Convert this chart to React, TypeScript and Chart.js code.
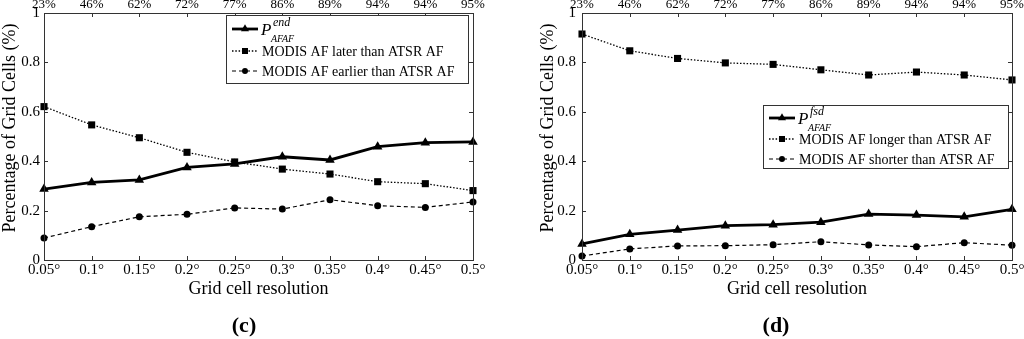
import React, { useEffect, useRef } from 'react';
import { Chart, registerables } from 'chart.js';
Chart.register(...registerables);

// ---------- data ----------
const resolutions = ['0.05°', '0.1°', '0.15°', '0.2°', '0.25°', '0.3°', '0.35°', '0.4°', '0.45°', '0.5°'];
const coverage = ['23%', '46%', '62%', '72%', '77%', '86%', '89%', '94%', '94%', '95%'];

// panel (c)
const pEnd = [0.287, 0.314, 0.324, 0.375, 0.389, 0.418, 0.405, 0.459, 0.475, 0.478];
const laterThan = [0.621, 0.547, 0.495, 0.436, 0.397, 0.368, 0.348, 0.317, 0.309, 0.281];
const earlierThan = [0.089, 0.135, 0.175, 0.185, 0.211, 0.206, 0.244, 0.220, 0.213, 0.235];

// panel (d)
const pFsd = [0.065, 0.104, 0.121, 0.139, 0.143, 0.153, 0.186, 0.182, 0.175, 0.205];
const longerThan = [0.915, 0.847, 0.816, 0.798, 0.792, 0.770, 0.749, 0.761, 0.749, 0.729];
const shorterThan = [0.016, 0.045, 0.057, 0.058, 0.062, 0.074, 0.061, 0.054, 0.070, 0.060];

const labelsC = ['MODIS AF later than ATSR AF', 'MODIS AF earlier than ATSR AF'];
const labelsD = ['MODIS AF longer than ATSR AF', 'MODIS AF shorter than ATSR AF'];

const FONT = "'Liberation Serif', 'Times New Roman', Times, serif";
const W = 512;
const H = 339;

type Style = { width: number; dash: number[]; point: string; r: number };
const STYLES: Style[] = [
  { width: 2.8, dash: [], point: 'triangle', r: 5.5 },
  { width: 1.3, dash: [1.5, 1.8], point: 'rect', r: 5 },
  { width: 1.2, dash: [4, 3], point: 'circle', r: 3.5 },
];

function drawMarker(ctx: CanvasRenderingContext2D, style: string, x: number, y: number, r: number) {
  ctx.beginPath();
  if (style === 'triangle') {
    ctx.moveTo(x, y - r);
    ctx.lineTo(x + r * 0.866, y + r * 0.5);
    ctx.lineTo(x - r * 0.866, y + r * 0.5);
  } else if (style === 'rect') {
    const s = r / Math.SQRT2;
    ctx.rect(x - s, y - s, 2 * s, 2 * s);
  } else {
    ctx.arc(x, y, r, 0, Math.PI * 2);
  }
  ctx.closePath();
  ctx.fill();
}

type PanelCfg = {
  series: number[][];
  texts: string[];
  sup: string;
  yWidth: number;
  yPad: number;
  padRight: number;
  box: [number, number, number, number];
  rows: number[];
  panel: string;
  panelX: number;
};

function makeDecor(cfg: PanelCfg) {
  return {
    id: 'decor',
    afterDraw(chart: any) {
      const ctx: CanvasRenderingContext2D = chart.ctx;
      const { left, right, top, bottom } = chart.chartArea;
      const xs = chart.scales.x;
      const ys = chart.scales.y;
      ctx.save();
      // frame
      ctx.strokeStyle = '#333';
      ctx.lineWidth = 1;
      ctx.setLineDash([]);
      ctx.strokeRect(Math.round(left) + 0.5, Math.round(top) + 0.5, Math.round(right - left), Math.round(bottom - top));
      // inward ticks
      ctx.beginPath();
      for (let i = 0; i < xs.ticks.length; i++) {
        const px = Math.round(xs.getPixelForTick(i)) + 0.5;
        ctx.moveTo(px, bottom);
        ctx.lineTo(px, bottom - 4);
        ctx.moveTo(px, top);
        ctx.lineTo(px, top + 4);
      }
      ys.ticks.forEach((t: any) => {
        const py = Math.round(ys.getPixelForValue(t.value)) + 0.5;
        ctx.moveTo(left, py);
        ctx.lineTo(left + 4, py);
        ctx.moveTo(right, py);
        ctx.lineTo(right - 4, py);
      });
      ctx.stroke();

      // axis titles
      ctx.fillStyle = '#000';
      ctx.font = `18px ${FONT}`;
      ctx.textAlign = 'center';
      ctx.textBaseline = 'middle';
      ctx.fillText('Grid cell resolution', (left + right) / 2, 289);
      ctx.save();
      ctx.translate(left - 34, 128);
      ctx.rotate(-Math.PI / 2);
      ctx.fillText('Percentage of Grid Cells (%)', 0, 0);
      ctx.restore();

      // panel label
      ctx.font = `bold 22px ${FONT}`;
      ctx.fillText(cfg.panel, cfg.panelX, 326);

      // legend
      const [bx, by, bw, bh] = cfg.box;
      ctx.fillStyle = '#fff';
      ctx.fillRect(bx, by, bw, bh);
      ctx.strokeStyle = '#333';
      ctx.lineWidth = 1;
      ctx.strokeRect(bx + 0.5, by + 0.5, bw, bh);
      const lx0 = bx + 6;
      const lx1 = bx + 32;
      const tx = bx + 36;
      cfg.rows.forEach((ry, i) => {
        const st = STYLES[i];
        ctx.strokeStyle = '#000';
        ctx.fillStyle = '#000';
        ctx.lineWidth = st.width;
        ctx.setLineDash(st.dash);
        ctx.beginPath();
        ctx.moveTo(lx0, ry);
        ctx.lineTo(lx1, ry);
        ctx.stroke();
        ctx.setLineDash([]);
        drawMarker(ctx, st.point, (lx0 + lx1) / 2, ry, st.r * 0.85);
        ctx.textAlign = 'left';
        ctx.textBaseline = 'alphabetic';
        if (i === 0) {
          ctx.font = `italic 17px ${FONT}`;
          ctx.fillText('P', tx - 1, ry + 6);
          ctx.font = `italic 12px ${FONT}`;
          ctx.fillText(cfg.sup, tx + 11, ry - 3);
          ctx.font = `italic 10px ${FONT}`;
          ctx.fillText('AFAF', tx + 9, ry + 13);
        } else {
          ctx.font = `14px ${FONT}`;
          ctx.textBaseline = 'middle';
          ctx.fillText(cfg.texts[i - 1], tx, ry + 1);
        }
      });
      ctx.restore();
    },
  };
}

function buildConfig(cfg: PanelCfg): any {
  return {
    type: 'line',
    data: {
      labels: resolutions,
      datasets: cfg.series.map((vals, i) => ({
        data: vals,
        xAxisID: 'x',
        yAxisID: 'y',
        borderColor: '#000',
        backgroundColor: '#000',
        borderWidth: STYLES[i].width,
        borderDash: STYLES[i].dash,
        pointStyle: STYLES[i].point,
        pointRadius: STYLES[i].r,
        pointBackgroundColor: '#000',
        pointBorderColor: '#000',
        pointBorderWidth: 0,
        tension: 0,
        fill: false,
        clip: false,
      })),
    },
    options: {
      responsive: false,
      maintainAspectRatio: false,
      animation: false,
      events: [],
      layout: { padding: { left: 0, right: cfg.padRight, top: 0, bottom: 0 } },
      plugins: { legend: { display: false }, tooltip: { enabled: false } },
      scales: {
        x: {
          type: 'category',
          position: 'bottom',
          offset: false,
          grid: { display: false, drawTicks: false },
          border: { display: false },
          ticks: { font: { family: FONT, size: 15 }, color: '#000', padding: 1, autoSkip: false, maxRotation: 0, minRotation: 0 },
          afterFit(s: any) {
            s.height = 79;
            s.paddingLeft = 0;
            s.paddingRight = 0;
          },
        },
        x2: {
          type: 'category',
          position: 'top',
          labels: coverage,
          offset: false,
          grid: { display: false, drawTicks: false },
          border: { display: false },
          ticks: { font: { family: FONT, size: 13 }, color: '#000', padding: 1, autoSkip: false, maxRotation: 0, minRotation: 0 },
          afterFit(s: any) {
            s.height = 13;
            s.paddingLeft = 0;
            s.paddingRight = 0;
          },
        },
        y: {
          type: 'linear',
          position: 'left',
          min: 0,
          max: 1,
          grid: { display: false, drawTicks: false },
          border: { display: false },
          ticks: {
            stepSize: 0.2,
            font: { family: FONT, size: 15 },
            color: '#000',
            padding: cfg.yPad,
            callback: (v: number) => String(Math.round(v * 10) / 10),
          },
          afterFit(s: any) {
            s.width = cfg.yWidth;
            s.paddingTop = 0;
            s.paddingBottom = 0;
          },
        },
      },
    },
    plugins: [makeDecor(cfg)],
  };
}

const panelC: PanelCfg = {
  series: [pEnd, laterThan, earlierThan],
  texts: labelsC,
  sup: 'end',
  yWidth: 44,
  yPad: 4,
  padRight: 39,
  box: [226, 15, 242, 68],
  rows: [29, 51, 71],
  panel: '(c)',
  panelX: 244,
};

const panelD: PanelCfg = {
  series: [pFsd, longerThan, shorterThan],
  texts: labelsD,
  sup: 'fsd',
  yWidth: 70,
  yPad: 6,
  padRight: 12,
  box: [251, 105, 245, 63],
  rows: [118, 139, 159],
  panel: '(d)',
  panelX: 264,
};

function Panel({ cfg, x }: { cfg: PanelCfg; x: number }) {
  const ref = useRef<HTMLCanvasElement>(null);
  useEffect(() => {
    if (!ref.current) return;
    const chart = new Chart(ref.current, buildConfig(cfg));
    return () => chart.destroy();
  }, [cfg]);
  return (
    <canvas
      ref={ref}
      width={W}
      height={H}
      style={{ position: 'absolute', left: x, top: 0, width: W, height: H }}
    />
  );
}

export default function App() {
  return (
    <div style={{ position: 'absolute', left: 0, top: 0, width: 1024, height: 339, background: '#fff', overflow: 'hidden' }}>
      <Panel cfg={panelC} x={0} />
      <Panel cfg={panelD} x={512} />
    </div>
  );
}
